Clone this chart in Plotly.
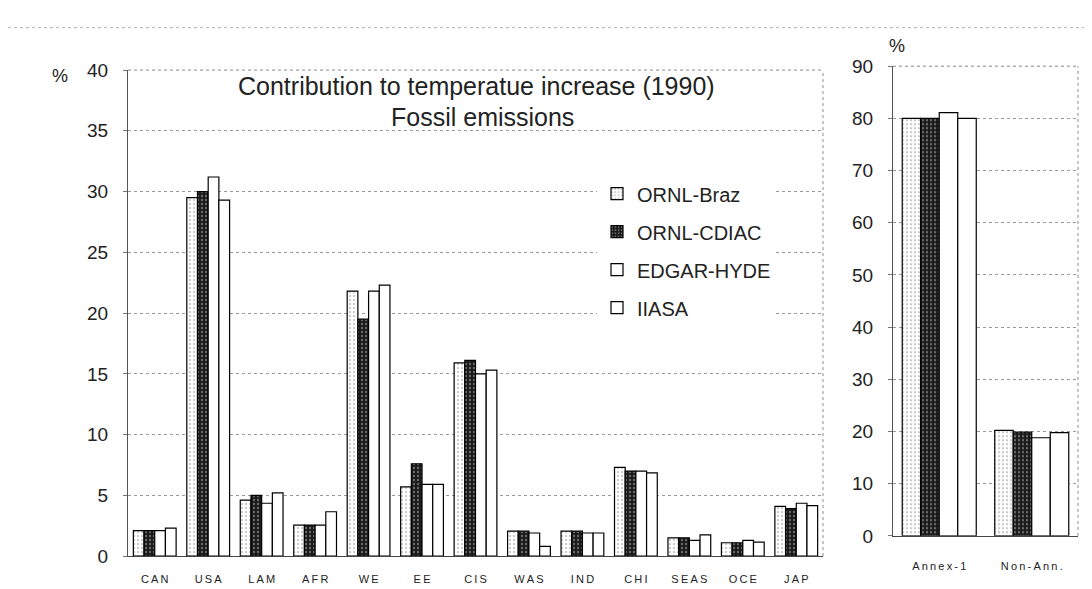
import plotly.graph_objects as go

# regions (left panel)
regions = ['CAN', 'USA', 'LAM', 'AFR', 'WE', 'EE', 'CIS', 'WAS', 'IND', 'CHI', 'SEAS', 'OCE', 'JAP']
ornl_braz = [2.1, 29.5, 4.6, 2.55, 21.8, 5.7, 15.9, 2.05, 2.05, 7.3, 1.5, 1.1, 4.1]
ornl_cdiac = [2.1, 30.0, 5.0, 2.55, 19.5, 7.6, 16.1, 2.05, 2.05, 7.0, 1.5, 1.1, 3.9]
edgar_hyde = [2.1, 31.2, 4.35, 2.55, 21.8, 5.9, 15.0, 1.9, 1.9, 7.0, 1.3, 1.3, 4.35]
iiasa = [2.3, 29.3, 5.2, 3.65, 22.3, 5.9, 15.3, 0.8, 1.9, 6.85, 1.75, 1.15, 4.15]

# groups (right panel)
groups = ['Annex-1', 'Non-Ann.']
grp_braz = [80.0, 20.2]
grp_cdiac = [80.0, 19.9]
grp_edgar = [81.1, 18.8]
grp_iiasa = [80.0, 19.8]

series_names = ['ORNL-Braz', 'ORNL-CDIAC', 'EDGAR-HYDE', 'IIASA']

FONT = 'Liberation Sans, Arial, sans-serif'
INK = '#222'


def spaced(s):
    # the scanned labels are letter-spaced
    return '\u2009'.join(s)


styles = [
    dict(color='white', pattern=dict(shape='.', fgcolor='#9a9a9a', bgcolor='white', size=4, solidity=0.3)),
    dict(color='#1a1a1a', pattern=dict(shape='.', fgcolor='#c8c8c8', bgcolor='#1a1a1a', size=4, solidity=0.25)),
    dict(color='white'),
    dict(color='white'),
]

fig = go.Figure()

left_data = [ornl_braz, ornl_cdiac, edgar_hyde, iiasa]
right_data = [grp_braz, grp_cdiac, grp_edgar, grp_iiasa]

for i, name in enumerate(series_names):
    fig.add_trace(go.Bar(x=regions, y=left_data[i], name=name, legendgroup=name,
                         marker=dict(line=dict(color='black', width=1.2), **styles[i]),
                         xaxis='x', yaxis='y'))
for i, name in enumerate(series_names):
    fig.add_trace(go.Bar(x=groups, y=right_data[i], name=name, legendgroup=name, showlegend=False,
                         marker=dict(line=dict(color='black', width=1.2), **styles[i]),
                         xaxis='x2', yaxis='y2'))

W, H = 1092, 589


def px(x):
    return x / W


def py(y):
    return 1 - y / H


axis_common = dict(showgrid=True, gridcolor='#9a9a9a', griddash='dot', gridwidth=1,
                   showline=True, linecolor='#555', linewidth=1, ticks='outside', ticklen=4,
                   tickcolor='#777', ticklabelstandoff=11,
                   tickfont=dict(family=FONT, size=19, color=INK), zeroline=False)

fig.update_layout(
    width=W, height=H,
    margin=dict(l=0, r=0, t=0, b=0),
    paper_bgcolor='white', plot_bgcolor='white',
    barmode='group', bargap=0.2, bargroupgap=0,
    font=dict(family=FONT, color=INK),
    xaxis=dict(domain=[px(120), px(815)], anchor='y', showline=True, linecolor='#444',
               tickmode='array', tickvals=regions, ticktext=[spaced(r) for r in regions],
               tickfont=dict(family=FONT, size=11, color=INK), ticks='', ticklabelstandoff=13),
    yaxis=dict(domain=[py(558), py(54)], anchor='x', range=[0, 40], dtick=5, **axis_common),
    xaxis2=dict(domain=[px(885), px(1070)], anchor='y2', showline=True, linecolor='#444',
                tickmode='array', tickvals=groups, ticktext=[spaced(g) for g in groups],
                tickfont=dict(family=FONT, size=11, color=INK), ticks='', ticklabelstandoff=20),
    yaxis2=dict(domain=[py(537), py(50)], anchor='x2', range=[0, 90], dtick=10, **axis_common),
    legend=dict(x=px(589), y=py(162), xanchor='left', yanchor='top',
                bgcolor='white', borderwidth=0, tracegroupgap=9,
                font=dict(family=FONT, size=20, color=INK)),
    showlegend=True,
)

# dotted frame edges (top and right) of both panels, and the scan line at the top
frame = dict(color='#8a8a8a', width=1, dash='dot')
shapes = []
for xr, yr in [('x domain', 'y domain'), ('x2 domain', 'y2 domain')]:
    shapes.append(dict(type='line', xref=xr, yref=yr, x0=0, x1=1, y0=1, y1=1, line=frame))
    shapes.append(dict(type='line', xref=xr, yref=yr, x0=1, x1=1, y0=0, y1=1, line=frame))
shapes.append(dict(type='line', xref='paper', yref='paper', x0=0, x1=1, y0=py(10), y1=py(10),
                   line=dict(color='#b0b0b0', width=1, dash='dot')))
fig.update_layout(shapes=shapes)

title_font = dict(family=FONT, size=25, color=INK)
fig.add_annotation(text='Contribution to temperatue increase (1990)', xref='paper', yref='paper',
                   x=px(468), y=py(70), xanchor='center', yanchor='middle', showarrow=False,
                   font=title_font)
fig.add_annotation(text='Fossil emissions', xref='paper', yref='paper',
                   x=px(474), y=py(103), xanchor='center', yanchor='middle', showarrow=False,
                   font=title_font)
fig.add_annotation(text='%', xref='paper', yref='paper', x=px(52), y=py(60),
                   xanchor='center', yanchor='middle', showarrow=False,
                   font=dict(family=FONT, size=18, color=INK))
fig.add_annotation(text='%', xref='paper', yref='paper', x=px(889), y=py(29),
                   xanchor='center', yanchor='middle', showarrow=False,
                   font=dict(family=FONT, size=18, color=INK))

fig.write_html('out.html')
